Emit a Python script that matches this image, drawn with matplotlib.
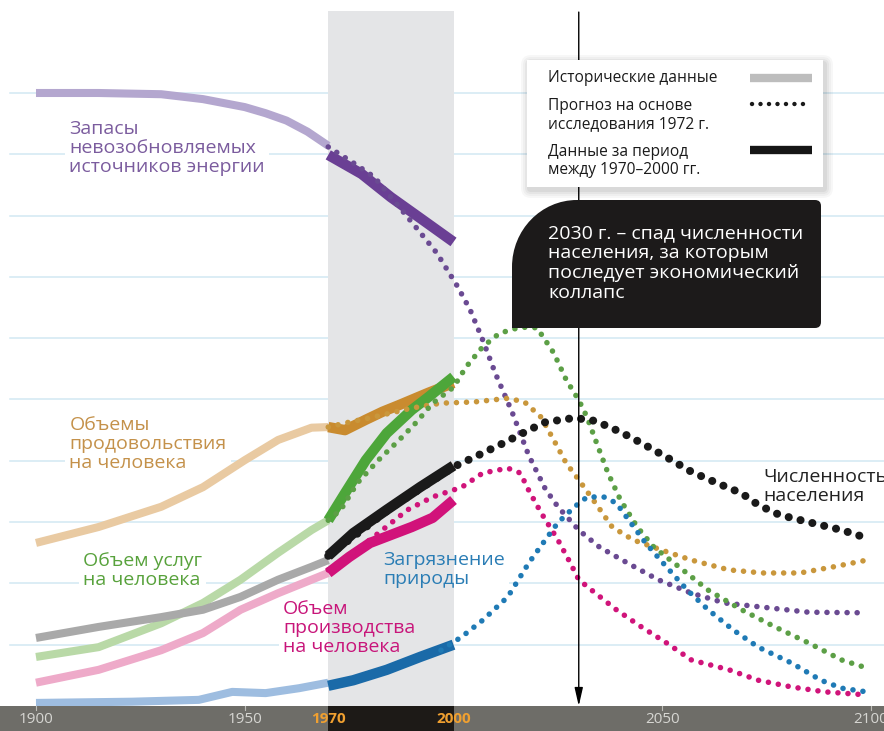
import matplotlib
matplotlib.use("Agg")
import matplotlib.pyplot as plt
from matplotlib.path import Path
from matplotlib.patches import PathPatch, Rectangle, FancyBboxPatch

plt.rcParams['font.family'] = ['Open Sans', 'DejaVu Sans']

# ---- data (units: grid steps above the baseline) ----
res_hist_x = [1900, 1915, 1930, 1940, 1950, 1955, 1960, 1965, 1970]
res_hist_y = [10.00, 10.00, 9.98, 9.90, 9.77, 9.67, 9.55, 9.37, 9.14]
res_real_x = [1970, 1978, 1985, 1992, 2000]
res_real_y = [8.99, 8.68, 8.30, 7.96, 7.57]
res_fc_x = [1970, 1976, 1981, 1987, 1991, 1996, 2001, 2004, 2007, 2010, 2014, 2018,
            2022, 2025, 2030, 2035, 2042, 2049, 2057, 2065, 2073, 2085, 2099]
res_fc_y = [9.12, 8.86, 8.63, 8.14, 7.81, 7.39, 6.84, 6.46, 5.97, 5.43, 4.80, 4.09,
            3.54, 3.25, 2.87, 2.59, 2.32, 2.06, 1.84, 1.68, 1.62, 1.53, 1.52]

food_hist_x = [1900, 1915, 1930, 1940, 1950, 1958, 1966, 1970]
food_hist_y = [2.66, 2.92, 3.25, 3.57, 4.01, 4.34, 4.54, 4.55]
food_real_x = [1970, 1974, 1979, 1983, 1987, 1994, 2000]
food_real_y = [4.55, 4.50, 4.67, 4.80, 4.91, 5.11, 5.27]
food_fc_x = [1970, 1975, 1980, 1990, 1997, 2005, 2013, 2017, 2021, 2024, 2027, 2030,
             2034, 2038, 2043, 2050, 2057, 2066, 2074, 2083, 2091, 2099]
food_fc_y = [4.55, 4.63, 4.70, 4.86, 4.94, 4.96, 5.02, 4.96, 4.71, 4.34, 3.96, 3.69,
             3.31, 2.92, 2.71, 2.54, 2.38, 2.22, 2.17, 2.17, 2.27, 2.38]

serv_hist_x = [1900, 1915, 1930, 1940, 1949, 1958, 1966, 1970]
serv_hist_y = [0.80, 0.96, 1.35, 1.68, 2.06, 2.50, 2.87, 3.03]
serv_real_x = [1970, 1974, 1979, 1984, 1990, 1994, 2000]
serv_real_y = [3.03, 3.47, 4.01, 4.45, 4.83, 5.04, 5.37]
serv_fc_x = [1970, 1973, 1977, 1982, 1987, 1991, 1995, 2000, 2003, 2007, 2011, 2016,
             2020, 2024, 2027, 2030, 2032, 2034, 2037, 2040, 2044, 2048, 2054, 2061,
             2069, 2077, 2085, 2093, 2099]
serv_fc_y = [3.03, 3.20, 3.64, 4.01, 4.34, 4.62, 4.94, 5.20, 5.53, 5.86, 6.08, 6.18,
             6.17, 5.76, 5.32, 4.99, 4.71, 4.34, 3.80, 3.36, 2.92, 2.59, 2.27, 1.89,
             1.57, 1.29, 1.03, 0.75, 0.62]

pop_hist_x = [1900, 1915, 1930, 1940, 1949, 1958, 1966, 1970]
pop_hist_y = [1.11, 1.29, 1.45, 1.57, 1.78, 2.06, 2.27, 2.38]
pop_real_x = [1970, 1976, 1984, 1992, 2000]
pop_real_y = [2.45, 2.82, 3.20, 3.57, 3.92]
pop_fc_x = [1970, 1985, 2000, 2005, 2012, 2018, 2022, 2029, 2034, 2040, 2045, 2051,
            2057, 2063, 2069, 2073, 2078, 2085, 2093, 2099]
pop_fc_y = [2.45, 3.23, 3.90, 4.06, 4.29, 4.50, 4.63, 4.70, 4.65, 4.47, 4.29, 4.06,
            3.82, 3.64, 3.47, 3.28, 3.12, 3.00, 2.87, 2.74]

ind_hist_x = [1900, 1915, 1930, 1940, 1949, 1958, 1966, 1970]
ind_hist_y = [0.38, 0.59, 0.91, 1.19, 1.57, 1.84, 2.06, 2.17]
ind_real_x = [1970, 1975, 1980, 1985, 1990, 1995, 2000]
ind_real_y = [2.17, 2.43, 2.66, 2.79, 2.92, 3.07, 3.36]
ind_fc_x = [1970, 1980, 1989, 1995, 2002, 2007, 2013, 2016, 2018, 2021, 2025, 2028,
            2030, 2034, 2039, 2045, 2051, 2057, 2066, 2073, 2081, 2089, 2099]
ind_fc_y = [2.22, 2.71, 3.20, 3.41, 3.57, 3.80, 3.88, 3.80, 3.52, 3.15, 2.71, 2.33,
            2.06, 1.84, 1.57, 1.29, 1.03, 0.75, 0.59, 0.42, 0.31, 0.23, 0.18]

pol_hist_x = [1900, 1923, 1939, 1947, 1955, 1963, 1970]
pol_hist_y = [0.05, 0.07, 0.10, 0.23, 0.21, 0.29, 0.38]
pol_real_x = [1970, 1976, 1984, 1992, 2000]
pol_real_y = [0.33, 0.42, 0.59, 0.80, 1.00]
pol_fc_x = [1997, 2002, 2007, 2013, 2018, 2022, 2025, 2029, 2032, 2036, 2039, 2042,
            2046, 2051, 2056, 2061, 2067, 2073, 2081, 2088, 2093, 2099]
pol_fc_y = [0.91, 1.13, 1.40, 1.78, 2.33, 2.71, 2.99, 3.25, 3.41, 3.41, 3.31, 3.03,
            2.66, 2.27, 1.89, 1.57, 1.24, 0.96, 0.70, 0.42, 0.29, 0.23]

tick_years = [1900, 1950, 1970, 2000, 2050, 2100]
tick_labels = ['1900', '1950', '1970', '2000', '2050', '2100']

# ---- figure ----
fig = plt.figure(figsize=(8.84, 7.31), dpi=100)
ax = fig.add_axes([0, 0, 1, 1])
ax.set_xlim(1891.38, 2103.11)
ax.set_ylim(-0.408, 11.517)
ax.axis('off')

for g in range(1, 11):
    ax.plot([1893.8, 2103.11], [g, g], color='#d2e8f2', lw=1.1, zorder=0)

ax.add_patch(Rectangle((1970, 0), 30, 11.34, color='#e4e5e7', zorder=1, lw=0))

# bottom band with years
ax.add_patch(Rectangle((1880, -0.5), 240, 0.5, color='#6e6d68', zorder=6, lw=0))
ax.add_patch(Rectangle((1970, -0.5), 30, 0.5, color='#1d1a17', zorder=6, lw=0))
for yr, lab in zip(tick_years, tick_labels):
    hl = lab in ('1970', '2000')
    ax.text(yr, -0.215, lab, ha='center', va='center', fontsize=11,
            color='#f0a030' if hl else '#d6d6d2', fontweight='bold' if hl else 'normal',
            zorder=7)
    if not hl:
        ax.plot([yr, yr], [-0.06, 0], color='#bdbdb8', lw=0.8, zorder=7)

# labels: white backing to break the grid, then text on top
labels = [
    (1908.0, 9.10, 'Запасы\nневозобновляемых\nисточников энергии', '#7b5c9e'),
    (1908.0, 4.27, 'Объемы\nпродовольствия\nна человека', '#c4914a'),
    (1911.2, 2.21, 'Объем услуг\nна человека', '#58a23c'),
    (1959.2, 1.27, 'Объем\nпроизводства\nна человека', '#c8157a'),
    (1983.2, 2.22, 'Загрязнение\nприроды', '#2a7db5'),
    (2074.1, 3.58, 'Численность\nнаселения', '#222222'),
]
for x, y, txt, col in labels:
    ax.text(x, y, txt, ha='left', va='center', fontsize=14, color='none', linespacing=1.08,
            zorder=0.5, bbox=dict(facecolor='white', edgecolor='none', pad=3))
    ax.text(x, y, txt, ha='left', va='center', fontsize=14, color=col, linespacing=1.08,
            zorder=8)

series = [
    (res_hist_x, res_hist_y, res_real_x, res_real_y, res_fc_x, res_fc_y,
     '#b4a7cf', '#6a3f94', '#6a4a92'),
    (food_hist_x, food_hist_y, food_real_x, food_real_y, food_fc_x, food_fc_y,
     '#e9caa2', '#c98b2f', '#c9973c'),
    (serv_hist_x, serv_hist_y, serv_real_x, serv_real_y, serv_fc_x, serv_fc_y,
     '#b9d9a7', '#4da63a', '#5c9f46'),
    (ind_hist_x, ind_hist_y, ind_real_x, ind_real_y, ind_fc_x, ind_fc_y,
     '#eeaac9', '#d1127a', '#d0147a'),
    (pol_hist_x, pol_hist_y, pol_real_x, pol_real_y, pol_fc_x, pol_fc_y,
     '#9ebde0', '#1a6aa8', '#1f7ab5'),
    (pop_hist_x, pop_hist_y, pop_real_x, pop_real_y, pop_fc_x, pop_fc_y,
     '#a9a9a9', '#1a1a1a', '#1a1a1a'),
]
for i, (hx, hy, rx, ry, fx, fy, c1, c2, c3) in enumerate(series):
    ax.plot(hx, hy, color=c1, lw=5.8, solid_capstyle='butt', solid_joinstyle='round', zorder=3)
    ax.plot(rx, ry, color=c2, lw=7.5, solid_capstyle='butt', solid_joinstyle='round', zorder=3.5)
    if i == 5:
        ax.plot(fx, fy, color=c3, lw=5.8, ls=(0, (0.01, 1.5)), dash_capstyle='round', zorder=4)
    else:
        ax.plot(fx, fy, color=c3, lw=4.0, ls=(0, (0.01, 1.8)), dash_capstyle='round', zorder=4)

# 2030 marker line with arrow
ax.annotate('', xy=(2030, 0.0), xytext=(2030, 11.32), zorder=5,
            arrowprops=dict(arrowstyle='-|>,head_length=1.1,head_width=0.25',
                            color='black', lw=1.0, shrinkA=0, shrinkB=0))

# ---- overlay in pixel coordinates for the legend and the callout ----
ov = fig.add_axes([0, 0, 1, 1], facecolor='none')
ov.set_xlim(0, 884)
ov.set_ylim(731, 0)
ov.axis('off')

for k, a in enumerate([0.03, 0.03, 0.04, 0.05]):
    d = 8 - 2 * k
    ov.add_patch(FancyBboxPatch((527 - d + 2, 60 - d + 3), 296 + 2 * d, 127 + 2 * d,
                                boxstyle='round,pad=0,rounding_size=%d' % (d + 2),
                                facecolor='black', edgecolor='none', alpha=a))
ov.add_patch(Rectangle((527, 60), 296, 127, facecolor='white', edgecolor='none'))
ov.text(548, 78, 'Исторические данные', fontsize=11.2, va='center', ha='left', color='#1a1a1a')
ov.text(548, 115, 'Прогноз на основе\nисследования 1972 г.', fontsize=11.2, va='center',
        ha='left', color='#1a1a1a', linespacing=1.2)
ov.text(548, 161, 'Данные за период\nмежду 1970–2000 гг.', fontsize=11.2, va='center',
        ha='left', color='#1a1a1a', linespacing=1.2)
ov.plot([750, 812], [78, 78], color='#bdbdbd', lw=6, solid_capstyle='butt')
ov.plot([752, 811], [104, 104], color='#1a1a1a', lw=3.2, ls=(0, (0.01, 1.9)),
        dash_capstyle='round')
ov.plot([750, 812], [150, 150], color='#161616', lw=6, solid_capstyle='butt')

verts = [(512, 328), (512, 267),
         (512, 230), (541, 200), (577, 200),
         (815, 200), (821, 200), (821, 206),
         (821, 322), (821, 328), (815, 328),
         (512, 328)]
codes = [Path.MOVETO, Path.LINETO,
         Path.CURVE4, Path.CURVE4, Path.CURVE4,
         Path.LINETO, Path.CURVE3, Path.CURVE3,
         Path.LINETO, Path.CURVE3, Path.CURVE3,
         Path.CLOSEPOLY]
ov.add_patch(PathPatch(Path(verts, codes), facecolor='#1c1a1a', edgecolor='none'))
ov.text(548, 263, '2030 г. – спад численности\nнаселения, за которым\nпоследует экономический\nколлапс',
        fontsize=14, color='white', va='center', ha='left', linespacing=1.13)

fig.savefig('out.png', dpi=100)
